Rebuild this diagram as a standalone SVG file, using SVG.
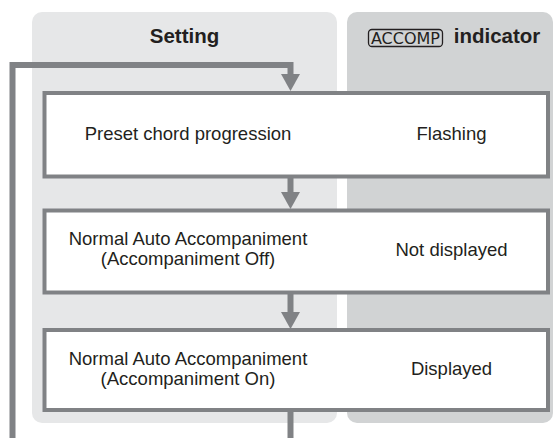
<svg xmlns="http://www.w3.org/2000/svg" width="555" height="438" viewBox="0 0 555 438">
<defs>
<style>
.panelA{fill:#e6e7e8}
.panelB{fill:#d1d3d4}
.box{fill:#ffffff;stroke:#808285;stroke-width:4}
.conn{fill:none;stroke:#808285;stroke-width:6}
.head{fill:#808285}
.hdr{font-family:"Liberation Sans",Arial,sans-serif;font-weight:bold;font-size:20.5px;fill:#231f20;text-anchor:middle}
.t{font-family:"Liberation Sans",Arial,sans-serif;font-size:18.5px;fill:#231f20;text-anchor:middle}
.key{font-family:"Liberation Sans Narrow","DejaVu Sans Condensed",sans-serif;font-size:16.5px;fill:#231f20}
</style>
</defs>
<g id="panels">
<rect class="panelA" x="32" y="12" width="305" height="411" rx="10"/>
<rect class="panelB" x="347" y="12" width="206" height="411" rx="10"/>
<text class="hdr" x="184.5" y="43">Setting</text>
<rect x="368.5" y="29.5" width="74" height="17" rx="3.5" fill="none" stroke="#231f20" stroke-width="1.3"/>
<text class="key" x="371" y="44.3" textLength="69" lengthAdjust="spacingAndGlyphs">ACCOMP</text>
<text class="hdr" x="497" y="43">indicator</text>
</g>
<g id="connectors">
<polyline class="conn" points="12.5,438 12.5,65 290.5,65 290.5,76"/>
<polygon class="head" points="281,74 300,74 290.5,91"/>
<line class="conn" x1="290.5" y1="176" x2="290.5" y2="194"/>
<polygon class="head" points="281,192 300,192 290.5,209"/>
<line class="conn" x1="290.5" y1="292" x2="290.5" y2="314"/>
<polygon class="head" points="281,312 300,312 290.5,329"/>
<line class="conn" x1="290.5" y1="410" x2="290.5" y2="438"/>
</g>
<g id="node1">
<rect class="box" x="44.5" y="93" width="503.5" height="83.5"/>
<text class="t" x="188" y="140">Preset chord progression</text>
<text class="t" x="451.5" y="140">Flashing</text>
</g>
<g id="node2">
<rect class="box" x="44.5" y="210.5" width="503.5" height="82"/>
<text class="t" x="188" y="244.5">Normal Auto Accompaniment</text>
<text class="t" x="188" y="264.5">(Accompaniment Off)</text>
<text class="t" x="451.5" y="256">Not displayed</text>
</g>
<g id="node3">
<rect class="box" x="44.5" y="330" width="503.5" height="80"/>
<text class="t" x="188" y="364.5">Normal Auto Accompaniment</text>
<text class="t" x="188" y="384.5">(Accompaniment On)</text>
<text class="t" x="451.5" y="375">Displayed</text>
</g>
</svg>
